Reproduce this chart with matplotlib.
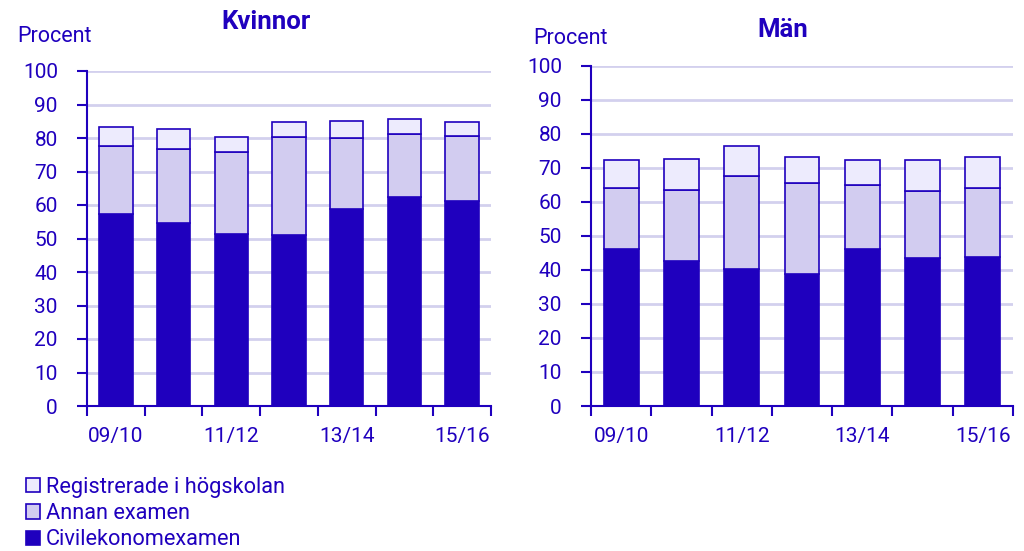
import matplotlib
matplotlib.use("Agg")
import matplotlib.pyplot as plt
import numpy as np
from matplotlib.patches import Patch

plt.rcParams["font.family"] = ["Roboto", "DejaVu Sans"]

# data (percent, cumulative layers split into parts)
years = ["09/10", "10/11", "11/12", "12/13", "13/14", "14/15", "15/16"]
tick_labels = ["09/10", "", "11/12", "", "13/14", "", "15/16"]

kv_civ = [57.2, 54.7, 51.2, 51.1, 58.8, 62.3, 61.1]
kv_annan = [20.4, 22.1, 24.7, 29.1, 21.2, 18.9, 19.4]
kv_reg = [5.8, 5.8, 4.5, 4.7, 5.2, 4.5, 4.2]

man_civ = [46.0, 42.7, 40.2, 38.8, 46.1, 43.6, 43.9]
man_annan = [18.1, 20.7, 27.3, 26.8, 18.7, 19.4, 20.2]
man_reg = [8.2, 9.1, 8.9, 7.4, 7.5, 9.2, 8.9]

DARK = "#1F00BE"
MID = "#D2CCF0"
LIGHT = "#EDEBFD"
GRID = "#D3D0EE"

fig = plt.figure(figsize=(10.24, 5.51), dpi=100)


def draw_panel(ax, civ, annan, reg, title, title_xy, procent_xy):
    x = np.arange(len(years))
    civ = np.array(civ)
    annan = np.array(annan)
    reg = np.array(reg)
    w = 0.58
    ax.bar(x, civ, w, color=DARK, edgecolor=DARK, linewidth=1.2, zorder=3)
    ax.bar(x, annan, w, bottom=civ, color=MID, edgecolor=DARK, linewidth=1.2, zorder=3)
    ax.bar(x, reg, w, bottom=civ + annan, color=LIGHT, edgecolor=DARK, linewidth=1.2, zorder=3)

    ax.set_xlim(-0.5, len(years) - 0.5)
    ax.set_ylim(0, 100)
    ax.set_yticks(range(0, 101, 10))
    ax.yaxis.grid(True, color=GRID, linewidth=2)
    ax.set_axisbelow(True)

    ax.set_xticks(x)
    ax.set_xticklabels(tick_labels)
    ax.set_xticks(np.arange(-0.5, len(years)), minor=True)
    ax.tick_params(axis="x", which="major", length=0, pad=15, labelsize=15, labelcolor=DARK)
    ax.tick_params(axis="x", which="minor", length=7, width=1.5, color=DARK, direction="out")
    ax.tick_params(axis="y", length=7, width=1.5, color=DARK, pad=14, labelsize=15, labelcolor=DARK)

    for s in ("top", "right"):
        ax.spines[s].set_visible(False)
    for s in ("left", "bottom"):
        ax.spines[s].set_color(DARK)
        ax.spines[s].set_linewidth(1.5)

    fig.text(title_xy[0] / 1024, 1 - title_xy[1] / 551, title, fontsize=18.5,
             fontweight="bold", color=DARK, ha="center", va="center")
    fig.text(procent_xy[0] / 1024, 1 - procent_xy[1] / 551, "Procent", fontsize=15.5,
             color=DARK, ha="left", va="center")


ax1 = fig.add_axes([87 / 1024, 1 - 406 / 551, (491 - 87) / 1024, (406 - 71) / 551])
ax2 = fig.add_axes([591 / 1024, 1 - 406 / 551, (1013 - 591) / 1024, (406 - 65.5) / 551])

draw_panel(ax1, kv_civ, kv_annan, kv_reg, "Kvinnor", (266, 22), (17, 37))
draw_panel(ax2, man_civ, man_annan, man_reg, "Män", (783, 30), (533, 38))

handles = [
    Patch(facecolor=LIGHT, edgecolor=DARK, linewidth=1.2, label="Registrerade i högskolan"),
    Patch(facecolor=MID, edgecolor=DARK, linewidth=1.2, label="Annan examen"),
    Patch(facecolor=DARK, edgecolor=DARK, linewidth=1.2, label="Civilekonomexamen"),
]
leg = fig.legend(handles=handles, loc="upper left", bbox_to_anchor=(26 / 1024, 1 - 477 / 551),
                 frameon=False, fontsize=15.7, handlelength=0.62, handleheight=0.62,
                 handletextpad=0.3, labelspacing=0.24, borderaxespad=0, borderpad=0)
for t in leg.get_texts():
    t.set_color(DARK)

fig.savefig("out.png", dpi=100)
